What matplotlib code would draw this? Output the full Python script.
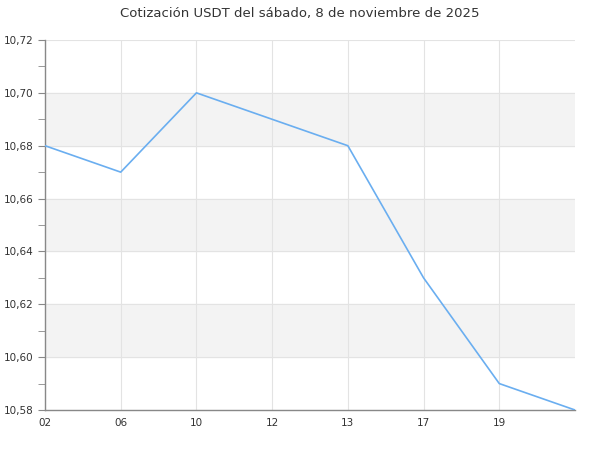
import matplotlib
matplotlib.use('Agg')
import matplotlib.pyplot as plt
from matplotlib.ticker import MultipleLocator, FuncFormatter

hours = ['02', '06', '10', '12', '13', '17', '19', '']
price = [10.68, 10.67, 10.70, 10.69, 10.68, 10.63, 10.59, 10.58]

fig = plt.figure(figsize=(6, 4.5), dpi=100)
ax = fig.add_axes([0.075, 0.0889, 0.8833, 0.8222])

x = list(range(len(hours)))
ax.plot(x, price, color='#6aaef0', linewidth=1.2, zorder=3)

ax.set_xlim(0, len(hours) - 1)
ax.set_ylim(10.58, 10.72)

# alternating bands
for lo in (10.60, 10.64, 10.68):
    ax.axhspan(lo, lo + 0.02, color='#f3f3f3', zorder=0)

ax.set_xticks(x[:-1])
ax.set_xticklabels(hours[:-1])
ax.yaxis.set_major_locator(MultipleLocator(0.02))
ax.yaxis.set_minor_locator(MultipleLocator(0.01))
ax.yaxis.set_major_formatter(FuncFormatter(lambda v, p: f'{v:.2f}'.replace('.', ',')))

ax.grid(True, which='major', color='#e3e3e3', linewidth=0.8, zorder=1)
ax.set_axisbelow(True)

for s in ('top', 'right'):
    ax.spines[s].set_visible(False)
for s in ('left', 'bottom'):
    ax.spines[s].set_color('#888888')
    ax.spines[s].set_linewidth(1)

ax.tick_params(axis='both', which='major', labelsize=7.5, colors='#888888',
               labelcolor='#333333', length=5)
ax.tick_params(axis='x', which='major', length=0, pad=6)
ax.tick_params(axis='y', which='minor', colors='#888888', length=5)

fig.suptitle('Cotización USDT del sábado, 8 de noviembre de 2025',
             fontsize=9.5, color='#333333', y=0.985)

fig.savefig('out.png', dpi=100)
